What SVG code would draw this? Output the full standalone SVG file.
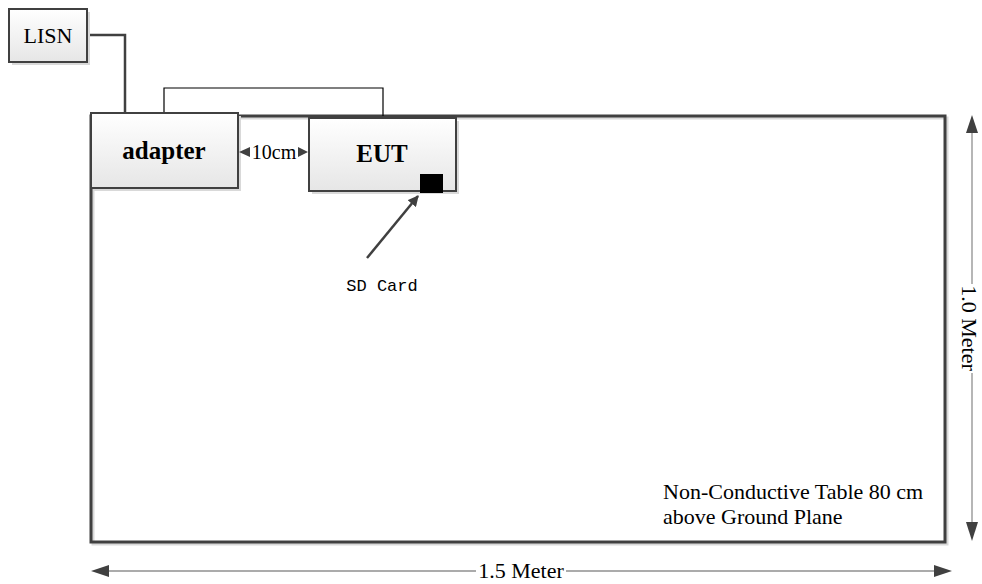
<svg xmlns="http://www.w3.org/2000/svg" width="982" height="584" viewBox="0 0 982 584">
<style>
.box{fill:url(#g);stroke:#404040;stroke-width:2}
.sh{fill:#d9d9d9}
.lbl{font-family:"Liberation Serif",serif;fill:#000}
.b{font-weight:bold;font-size:25px}
.wire{fill:none;stroke:#404040;stroke-width:2.5}
.thin{fill:none;stroke:#000;stroke-width:1.2}
.dim{fill:none;stroke:#909090;stroke-width:1.3}
.ah{fill:#404040}
</style>
<defs>
<linearGradient id="g" x1="0" y1="0" x2="0" y2="1">
<stop offset="0" stop-color="#ffffff"/>
<stop offset="1" stop-color="#e6e6e6"/>
</linearGradient>
<marker id="arr" viewBox="0 0 10 10" refX="9" refY="5" markerWidth="11" markerHeight="11" markerUnits="userSpaceOnUse" orient="auto">
<path d="M0,0 L10,5 L0,10 z" fill="#404040"/>
</marker>
</defs>
<rect width="982" height="584" fill="#fff"/>
<g id="table">
<rect x="93" y="118" width="854" height="426" fill="none" stroke="#d9d9d9" stroke-width="3"/>
<rect x="91" y="116" width="854" height="426" fill="none" stroke="#404040" stroke-width="3"/>
<text class="lbl" x="663" y="499" font-size="22">Non-Conductive Table 80 cm</text>
<text class="lbl" x="663" y="524" font-size="22">above Ground Plane</text>
</g>
<g id="connectors">
<path class="wire" d="M87,35 H125 V113"/>
<path class="thin" d="M164,113 V88 H383 V116"/>
<path d="M367,258 L418,196" fill="none" stroke="#404040" stroke-width="2.5" marker-end="url(#arr)"/>
</g>
<g id="lisn">
<rect class="sh" x="12" y="12" width="78" height="53"/>
<rect class="box" x="9" y="9" width="78" height="53"/>
<text class="lbl" x="48" y="43" font-size="22" text-anchor="middle">LISN</text>
</g>
<g id="adapter">
<rect class="sh" x="94" y="116" width="147" height="75"/>
<rect class="box" x="91" y="113" width="147" height="75"/>
<text class="lbl b" x="164" y="159" text-anchor="middle">adapter</text>
</g>
<g id="eut">
<rect class="sh" x="312" y="121" width="147" height="73"/>
<rect class="box" x="309" y="118" width="147" height="73"/>
<text class="lbl b" x="382" y="162" text-anchor="middle">EUT</text>
<rect x="420" y="174" width="23" height="19" fill="#000"/>
</g>
<g id="sdcard">
<text x="382" y="291" font-family="'Liberation Mono',monospace" font-size="17" text-anchor="middle" fill="#000">SD Card</text>
</g>
<g id="dim10">
<path class="ah" d="M239,152 L250,147 L250,157 z"/>
<path class="ah" d="M308,152 L298,147 L298,157 z"/>
<text class="lbl" x="274" y="159" font-size="20" text-anchor="middle">10cm</text>
</g>
<g id="dimV">
<path class="dim" d="M972,132 V284 M972,373 V523"/>
<path class="ah" d="M972,115 L966,133 L978,133 z"/>
<path class="ah" d="M972,541 L966,522 L978,522 z"/>
<text class="lbl" x="0" y="0" font-size="22" text-anchor="middle" transform="translate(962,328) rotate(90)">1.0 Meter</text>
</g>
<g id="dimH">
<path class="dim" d="M108,571 H476 M566,571 H935"/>
<path class="ah" d="M91,571 L109,565 L109,577 z"/>
<path class="ah" d="M952,571 L934,565 L934,577 z"/>
<text class="lbl" x="521" y="578" font-size="22" text-anchor="middle">1.5 Meter</text>
</g>
</svg>
